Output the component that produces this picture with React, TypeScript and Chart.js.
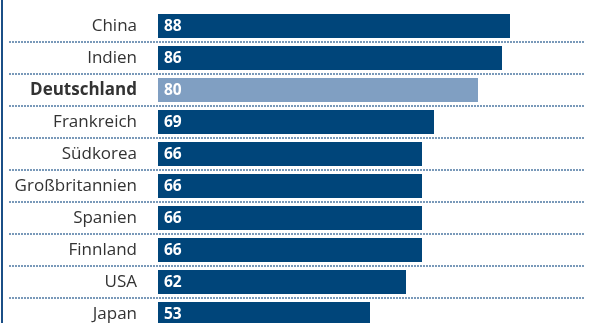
import React, { useEffect, useRef } from "react";
import { Chart, registerables } from "chart.js";

Chart.register(...registerables);

const categories = ["China", "Indien", "Deutschland", "Frankreich", "Südkorea", "Großbritannien", "Spanien", "Finnland", "USA", "Japan"];
const values = [88, 86, 80, 69, 66, 66, 66, 66, 62, 53];
const highlight = "Deutschland";

const DARK = "#00457a";
const LIGHT = "#809fc2";

export default function App() {
  const ref = useRef<HTMLCanvasElement | null>(null);

  useEffect(() => {
    document.body.style.margin = "0";
    document.body.style.overflow = "hidden";
    const canvas = ref.current!;

    const decor = {
      id: "decor",
      beforeDatasetsDraw(chart: any) {
        const { ctx, scales } = chart;
        const y = scales.y;
        ctx.save();
        // left border
        ctx.fillStyle = "#1b4f86";
        ctx.fillRect(1, 0, 2, chart.height);
        // dotted separators
        ctx.strokeStyle = "#4d78a3";
        ctx.lineWidth = 1.3;
        ctx.setLineDash([2, 1]);
        for (let i = 0; i < categories.length; i++) {
          const py = Math.round(y.getPixelForValue(i + 0.5));
          ctx.beginPath();
          ctx.moveTo(9, py);
          ctx.lineTo(585, py);
          ctx.stroke();
        }
        ctx.restore();
      },
      afterDatasetsDraw(chart: any) {
        const { ctx } = chart;
        const meta = chart.getDatasetMeta(0);
        ctx.save();
        ctx.fillStyle = "#ffffff";
        ctx.font = "bold 15.5px 'Open Sans'";
        ctx.textAlign = "left";
        ctx.textBaseline = "middle";
        meta.data.forEach((bar: any, i: number) => {
          ctx.fillText(String(values[i]), bar.base + 6, bar.y + 1);
        });
        ctx.restore();
      },
    };

    const chart = new Chart(canvas, {
      type: "bar",
      data: {
        labels: categories,
        datasets: [
          {
            data: values,
            backgroundColor: categories.map((c) => (c === highlight ? LIGHT : DARK)),
            categoryPercentage: 1,
            barPercentage: 0.75,
            borderWidth: 0,
          },
        ],
      },
      options: {
        indexAxis: "y",
        animation: false,
        responsive: false,
        maintainAspectRatio: false,
        layout: { padding: { top: 10, bottom: 0, left: 0, right: 4 } },
        plugins: { legend: { display: false }, tooltip: { enabled: false } },
        scales: {
          x: { display: false, min: 0, max: 107 },
          y: {
            grid: { display: false, drawTicks: false },
            border: { display: false },
            afterFit: (scale: any) => {
              scale.width = 158;
              scale.paddingTop = 0;
              scale.paddingBottom = 0;
            },
            ticks: {
              padding: 21,
              color: "#333333",
              font: (ctx: any) => ({
                family: "'Open Sans'",
                size: 17,
                weight: categories[ctx.index] === highlight ? "bold" : "normal",
              }),
            },
          },
        },
      },
      plugins: [decor],
    });
    return () => chart.destroy();
  }, []);

  return (
    <div style={{ width: 590, height: 323, overflow: "hidden", position: "relative" }}>
      <canvas ref={ref} width={590} height={330} style={{ display: "block" }} />
    </div>
  );
}
